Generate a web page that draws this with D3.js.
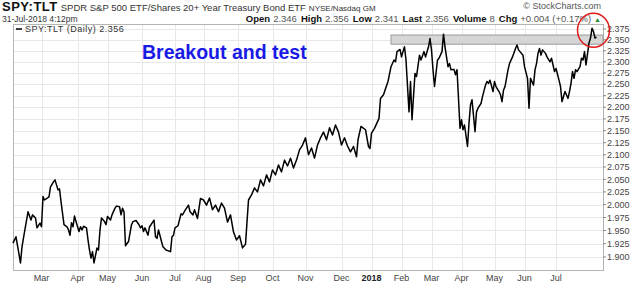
<!DOCTYPE html>
<html>
<head>
<meta charset="utf-8">
<script src="https://cdn.jsdelivr.net/npm/d3@7"></script>
<style>
  body { margin: 0; background: #fff; }
  svg { display: block; font-family: Arial, "Liberation Sans", sans-serif; }
</style>
</head>
<body>
<div id="chart"></div>
<script>
// [trading session, SPY:TLT close]
var ratioSeries = [
  [0,1.926],[2,1.938],[5,1.889],[6,1.919],[7,1.936],[10,1.986],[12,1.970],[13,1.980],[15,1.974],[16,1.955],
  [18,1.964],[19,1.957],[20,2.016],[21,2.009],[24,2.015],[25,2.035],[27,2.045],[28,2.049],[29,2.039],[30,2.029],
  [31,2.031],[32,2.006],[34,1.961],[36,1.957],[37,1.951],[38,1.941],[39,1.965],[40,1.957],[41,1.978],[42,1.967],
  [44,1.948],[45,1.957],[46,1.951],[47,1.958],[49,1.955],[50,1.932],[51,1.913],[52,1.898],[53,1.910],[54,1.889],
  [56,1.917],[57,1.913],[58,1.951],[59,1.974],[61,1.967],[62,1.961],[63,1.977],[65,1.970],[66,1.980],[68,1.993],
  [69,1.997],[71,1.996],[72,1.980],[73,1.993],[74,1.986],[75,1.921],[77,1.929],[79,1.961],[80,1.967],[82,1.969],
  [84,1.961],[85,1.955],[86,1.959],[87,1.948],[88,1.955],[90,1.941],[91,1.957],[92,1.961],[94,1.970],[95,1.938],
  [96,1.935],[97,1.951],[99,1.929],[100,1.919],[102,1.913],[105,1.910],[106,1.938],[107,1.941],[108,1.955],[110,1.959],
  [112,1.982],[113,1.980],[115,1.990],[117,1.999],[118,1.986],[120,1.980],[121,1.990],[123,1.973],[125,2.012],
  [127,2.009],[129,1.999],[131,2.013],[133,1.990],[135,1.999],[137,1.986],[139,2.003],[141,1.993],[143,1.966],[145,1.980],
  [147,1.947],[149,1.932],[151,1.940],[153,1.917],[155,1.924],[157,2.009],[159,2.019],[161,2.033],[163,2.025],[165,2.049],
  [167,2.037],[169,2.059],[171,2.045],[173,2.069],[175,2.059],[177,2.079],[179,2.065],[181,2.089],[183,2.077],[185,2.093],
  [187,2.073],[189,2.089],[191,2.110],[193,2.120],[195,2.135],[197,2.100],[199,2.114],[201,2.093],[203,2.120],[205,2.135],
  [207,2.147],[209,2.131],[211,2.156],[213,2.141],[215,2.162],[217,2.147],[219,2.120],[221,2.135],[223,2.118],
  [225,2.106],[227,2.117],[229,2.096],[230,2.131],[232,2.159],[235,2.152],[237,2.117],[238,2.113],[239,2.145],[241,2.155],
  [244,2.176],[245,2.219],[247,2.227],[248,2.237],[250,2.256],[252,2.289],[254,2.304],[255,2.300],[256,2.323],[258,2.328],
  [259,2.311],[260,2.323],[261,2.334],[262,2.304],[264,2.190],[265,2.256],[266,2.173],[268,2.274],[269,2.267],[271,2.315],
  [272,2.304],[274,2.323],[275,2.311],[277,2.334],[278,2.353],[279,2.327],[280,2.282],[281,2.245],[283,2.304],[284,2.308],
  [286,2.323],[287,2.363],[288,2.334],[289,2.311],[290,2.289],[291,2.296],[292,2.282],[294,2.283],[295,2.271],[296,2.282],
  [297,2.219],[298,2.155],[299,2.173],[300,2.152],[301,2.162],[303,2.117],[304,2.166],[305,2.205],[306,2.216],[308,2.148],
  [309,2.190],[310,2.198],[312,2.208],[313,2.223],[315,2.248],[316,2.256],[317,2.252],[318,2.259],[320,2.234],[321,2.256],
  [322,2.245],[324,2.234],[325,2.227],[326,2.212],[327,2.237],[328,2.245],[330,2.282],[331,2.296],[333,2.311],[335,2.330],
  [336,2.338],[337,2.327],[338,2.323],[340,2.315],[341,2.289],[343,2.263],[344,2.198],[345,2.263],[347,2.248],[348,2.282],
  [349,2.296],[350,2.319],[351,2.330],[352,2.315],[353,2.327],[355,2.319],[356,2.311],[358,2.300],[359,2.308],[361,2.278],
  [362,2.285],[364,2.259],[365,2.245],[366,2.212],[367,2.223],[368,2.234],[370,2.219],[371,2.234],[372,2.252],[373,2.278],
  [374,2.263],[375,2.282],[376,2.278],[378,2.289],[379,2.308],[380,2.304],[381,2.323],[382,2.293],[384,2.343],[385,2.354],
  [386,2.377],[387,2.369],[388,2.354],[389,2.356]
];

var monthLabels   = ["Mar","Apr","May","Jun","Jul","Aug","Sep","Oct","Nov","Dec","2018","Feb","Mar","Apr","May","Jun","Jul"];
var monthSessions = [19, 43, 63, 86, 108, 127, 150, 173, 195, 219, 239, 259, 279, 299, 321, 341, 362];

var yTicks = [1.900,1.925,1.950,1.975,2.000,2.025,2.050,2.075,2.100,2.125,2.150,2.175,
              2.200,2.225,2.250,2.275,2.300,2.325,2.350,2.375];

var quote = [["Open","2.346"],["High","2.356"],["Low","2.341"],["Last","2.356"],["Volume","8"],["Chg","+0.004 (+0.17%)"]];

// resistance band [first session, low, high] and the circled test [session, value]
var band = [252, 2.340, 2.361];
var testPoint = [387, 2.372];

var width = 640, height = 283;
var plot = {left: 13, right: 603, top: 24, bottom: 270};

var svg = d3.select("#chart").append("svg")
    .attr("width", width)
    .attr("height", height);

var x = d3.scaleLinear().domain([0, 393.33]).range([plot.left, plot.right]);
var y = d3.scaleLog().domain([1.9, 2.375]).range([257, 29]);

// grid
svg.append("g").selectAll("line")
    .data(yTicks)
  .enter().append("line")
    .attr("x1", plot.left).attr("x2", plot.right)
    .attr("y1", function(d) { return Math.round(y(d)) + 0.5; })
    .attr("y2", function(d) { return Math.round(y(d)) + 0.5; })
    .attr("stroke", "#e8e8e8");

svg.append("g").selectAll("line")
    .data(monthSessions)
  .enter().append("line")
    .attr("y1", plot.top).attr("y2", plot.bottom)
    .attr("x1", function(d) { return Math.round(x(d)) + 0.5; })
    .attr("x2", function(d) { return Math.round(x(d)) + 0.5; })
    .attr("stroke", "#e8e8e8");

// frame
svg.append("rect")
    .attr("x", plot.left + 0.5).attr("y", plot.top + 0.5)
    .attr("width", plot.right - plot.left).attr("height", plot.bottom - plot.top)
    .attr("fill", "none")
    .attr("stroke", "#b4b4b4");

// resistance band
svg.append("rect")
    .attr("x", x(band[0]))
    .attr("y", y(band[2]))
    .attr("width", plot.right - x(band[0]))
    .attr("height", y(band[1]) - y(band[2]))
    .attr("fill", "#d6d6d6")
    .attr("stroke", "#9a9a9a")
    .attr("stroke-width", 1);

// price line
var line = d3.line()
    .x(function(d) { return x(d[0]); })
    .y(function(d) { return y(d[1]); });

svg.append("path")
    .datum(ratioSeries)
    .attr("d", line)
    .attr("fill", "none")
    .attr("stroke", "#000")
    .attr("stroke-width", 1.5)
    .attr("stroke-linejoin", "round");

// y axis labels on the right
var yAxis = svg.append("g").selectAll("g")
    .data(yTicks)
  .enter().append("g")
    .attr("transform", function(d) { return "translate(" + plot.right + "," + y(d) + ")"; });

yAxis.append("line")
    .attr("x1", 0).attr("x2", 3)
    .attr("stroke", "#888");

yAxis.append("text")
    .attr("x", 4)
    .attr("dy", "0.35em")
    .attr("font-size", "9px")
    .attr("fill", "#444")
    .text(function(d) { return d3.format(".3f")(d); });

// month labels
svg.append("g").selectAll("text")
    .data(monthSessions)
  .enter().append("text")
    .attr("x", function(d) { return x(d); })
    .attr("y", 281)
    .attr("text-anchor", "middle")
    .attr("font-size", "9px")
    .attr("font-weight", function(d, i) { return monthLabels[i] == "2018" ? "bold" : "normal"; })
    .attr("fill", function(d, i) { return monthLabels[i] == "2018" ? "#222" : "#444"; })
    .text(function(d, i) { return monthLabels[i]; });

// header
var h1 = svg.append("text").attr("x", 2).attr("y", 11);
h1.append("tspan").attr("font-size", "13px").attr("font-weight", "bold").attr("letter-spacing", "0.5px")
    .attr("fill", "#111").text("SPY:TLT");
h1.append("tspan").attr("dx", 3).attr("font-size", "9.5px").attr("fill", "#333")
    .text("SPDR S&P 500 ETF/Shares 20+ Year Treasury Bond ETF");
h1.append("tspan").attr("dx", 3).attr("font-size", "8px").attr("fill", "#333").text("NYSE/Nasdaq GM");

svg.append("text")
    .attr("x", 601).attr("y", 9)
    .attr("text-anchor", "end")
    .attr("font-size", "9px")
    .attr("fill", "#555")
    .text("\u00a9 StockCharts.com");

svg.append("text")
    .attr("x", 2).attr("y", 22)
    .attr("font-size", "8.5px")
    .attr("fill", "#333")
    .text("31-Jul-2018 4:12pm");

var h2 = svg.append("text").attr("x", 601).attr("y", 21.5).attr("text-anchor", "end").attr("font-size", "9.5px");
quote.forEach(function(q, i) {
  h2.append("tspan").attr("dx", i ? 4 : 0).attr("font-weight", "bold").attr("fill", "#111").text(q[0]);
  h2.append("tspan").attr("dx", 3).attr("fill", "#555").text(q[1]);
});
h2.append("tspan").attr("dx", 3).attr("fill", "#2a8a2a").attr("font-size", "7px").text("\u25b2");

// legend
var lg = svg.append("g").attr("transform", "translate(16,32)");
lg.append("line").attr("x1", 0).attr("x2", 6).attr("y1", -3).attr("y2", -3).attr("stroke", "#000").attr("stroke-width", 1.5);
lg.append("text")
    .attr("x", 9)
    .attr("font-size", "9px")
    .attr("letter-spacing", "0.5px")
    .attr("fill", "#333")
    .text("SPY:TLT (Daily) 2.356");

// annotation
svg.append("text")
    .attr("x", 142).attr("y", 59)
    .attr("font-size", "19.5px")
    .attr("font-weight", "bold")
    .attr("fill", "#1a1ae6")
    .text("Breakout and test");

svg.append("ellipse")
    .attr("cx", x(testPoint[0]))
    .attr("cy", y(testPoint[1]))
    .attr("rx", 16).attr("ry", 17)
    .attr("fill", "none")
    .attr("stroke", "#e01b1b")
    .attr("stroke-width", 1.5);
</script>
</body>
</html>
